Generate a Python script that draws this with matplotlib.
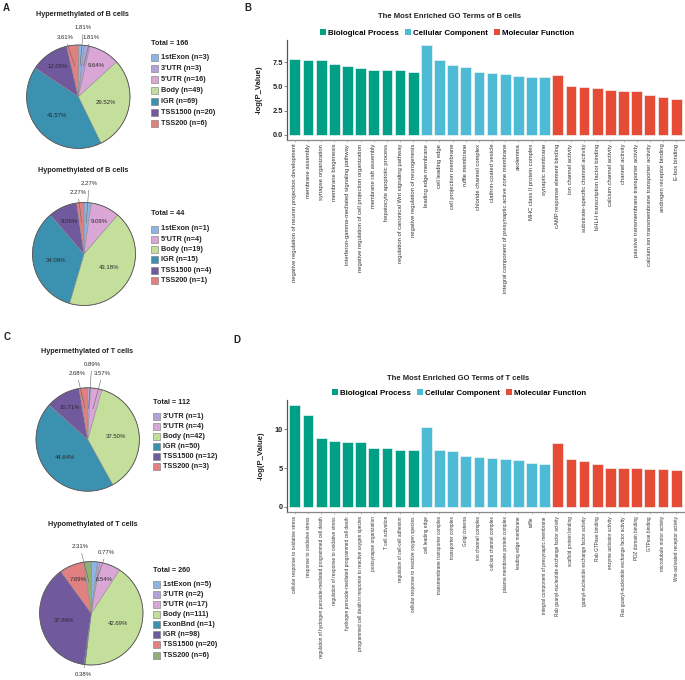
import numpy as np
import matplotlib
matplotlib.use('Agg')
import matplotlib.pyplot as plt
from matplotlib.patches import Rectangle, Circle, Patch

plt.rcParams['font.family'] = ['Liberation Sans', 'DejaVu Sans']

W, H = 685, 680

# ---- pie data (methylation sites by region) ----
hyper_b_regions = ['1stExon', "3'UTR", "5'UTR", 'Body', 'IGR', 'TSS1500', 'TSS200']
hyper_b_counts = [3, 3, 16, 49, 69, 20, 6]

hypo_b_regions = ['1stExon', "5'UTR", 'Body', 'IGR', 'TSS1500', 'TSS200']
hypo_b_counts = [1, 4, 19, 15, 4, 1]

hyper_t_regions = ["3'UTR", "5'UTR", 'Body', 'IGR', 'TSS1500', 'TSS200']
hyper_t_counts = [1, 4, 42, 50, 12, 3]

hypo_t_regions = ['1stExon', "3'UTR", "5'UTR", 'Body', 'ExonBnd', 'IGR', 'TSS1500', 'TSS200']
hypo_t_counts = [5, 2, 17, 111, 1, 98, 20, 6]

# ---- GO enrichment, B cells ----
b_bp_terms = ['negative regulation of neuron projection development', 'membrane assembly',
              'synapse organization', 'membrane biogenesis',
              'interferon-gamma-mediated signaling pathway',
              'negative regulation of cell projection organization', 'membrane raft assembly',
              'hepatocyte apoptotic process', 'regulation of canonical Wnt signaling pathway',
              'negative regulation of neurogenesis']
b_bp_values = [7.84, 7.74, 7.67, 7.33, 7.09, 6.92, 6.65, 6.65, 6.65, 6.48]
b_cc_terms = ['leading edge membrane', 'cell leading edge', 'cell projection membrane',
              'ruffle membrane', 'chloride channel complex', 'clathrin-coated vesicle',
              'integral component of presynaptic active zone membrane', 'axolemma',
              'MHC class II protein complex', 'synaptic membrane']
b_cc_values = [9.30, 7.67, 7.19, 6.99, 6.51, 6.38, 6.24, 6.07, 5.97, 5.97]
b_mf_terms = ['cAMP response element binding', 'ion channel activity',
              'substrate-specific channel activity', 'bHLH transcription factor binding',
              'calcium channel activity', 'channel activity',
              'passive transmembrane transporter activity',
              'calcium ion transmembrane transporter activity', 'androgen receptor binding',
              'E-box binding']
b_mf_values = [6.12, 5.05, 4.91, 4.78, 4.61, 4.50, 4.50, 4.13, 3.89, 3.69]

# ---- GO enrichment, T cells ----
t_bp_terms = ['cellular response to oxidative stress', 'response to oxidative stress',
              'regulation of hydrogen peroxide-mediated programmed cell death',
              'regulation of response to oxidative stress',
              'hydrogen peroxide-mediated programmed cell death',
              'programmed cell death in response to reactive oxygen species',
              'postsynapse organization', 'T cell activation',
              'regulation of cell-cell adhesion', 'cellular response to reactive oxygen species']
t_bp_values = [13.12, 11.84, 8.85, 8.46, 8.33, 8.33, 7.61, 7.56, 7.39, 7.35]
t_cc_terms = ['cell leading edge', 'transmembrane transporter complex', 'transporter complex',
              'Golgi cisterna', 'ion channel complex', 'calcium channel complex',
              'plasma membrane protein complex', 'leading edge membrane', 'ruffle',
              'integral component of presynaptic membrane']
t_cc_values = [10.30, 7.35, 7.22, 6.58, 6.45, 6.32, 6.20, 6.07, 5.64, 5.47]
t_mf_terms = ['Rab guanyl-nucleotide exchange factor activity', 'scaffold protein binding',
              'guanyl-nucleotide exchange factor activity', 'Rab GTPase binding',
              'enzyme activator activity', 'Ras guanyl-nucleotide exchange factor activity',
              'PDZ domain binding', 'GTPase binding', 'microtubule motor activity',
              'Wnt-activated receptor activity']
t_mf_values = [8.25, 6.11, 5.94, 5.56, 5.04, 5.00, 5.00, 4.91, 4.83, 4.74]

go_groups = ['Biological Process', 'Cellular Component', 'Molecular Function']
go_colors = ['#00A087', '#4DBBD5', '#E64B35']

region_colors = {'1stExon': '#8EB4E3', "3'UTR": '#B3A2D7', "5'UTR": '#D9A6D6',
                 'Body': '#C4DE9C', 'IGR': '#3A92B0', 'TSS1500': '#71599E',
                 'TSS200': '#E08080'}
hypo_t_colors = ['#8EB4E3', '#B3A2D7', '#D9A6D6', '#C4DE9C', '#3A92B0', '#71599E',
                 '#E08080', '#94AE7A']

fig = plt.figure(figsize=(W / 100, H / 100), dpi=100)


def fx(x):
    return x / W


def fy(y):
    return 1 - y / H


def draw_pie(cx, cy, r, regions, counts, colors, title, title_xy, legend_xy,
             first_y, step, outside, skip=()):
    ax = fig.add_axes([fx(cx - 1.6 * r), fy(cy + 1.6 * r), 3.2 * r / W, 3.2 * r / H])
    wedges, _ = ax.pie(counts, colors=colors, startangle=90, counterclock=False,
                       radius=1, wedgeprops=dict(edgecolor='#8a8a8a', linewidth=0.35))
    # pie() resets the limits, so set them afterwards
    ax.set_xlim(-1.6, 1.6)
    ax.set_ylim(-1.6, 1.6)
    ax.axis('off')
    ax.add_patch(Circle((0, 0), 1, fill=False, ec='#555555', lw=0.6))
    total = sum(counts)
    for i, w in enumerate(wedges):
        if i in skip:
            continue
        pct = 100 * counts[i] / total
        ang = np.deg2rad((w.theta1 + w.theta2) / 2)
        ux, uy = np.cos(ang), np.sin(ang)
        txt = '%.2f%%' % pct
        if i in outside:
            tx, ty = outside[i]
            ax.annotate(txt, xy=(0.6 * ux, 0.6 * uy), xytext=(tx, ty),
                        ha='center', va='center', fontsize=4.3, color='#2a2a2a',
                        arrowprops=dict(arrowstyle='-', color='#666666', lw=0.4,
                                        shrinkA=1, shrinkB=0))
        else:
            d = 0.7 if pct < 15 else 0.55
            ax.text(d * ux, d * uy, txt, ha='center', va='center', fontsize=4.3,
                    color='#2a2a2a')

    fig.text(fx(title_xy[0]), fy(title_xy[1]), title, ha='center', va='center',
             fontsize=5.2, fontweight='bold', color='#222222')
    lx, ly = legend_xy
    fig.text(fx(lx), fy(ly), 'Total = %d' % total, ha='left', va='center',
             fontsize=5.2, fontweight='bold', color='#222222')
    for k, reg in enumerate(regions):
        yy = first_y + k * step
        fig.add_artist(Rectangle((fx(lx), fy(yy + 3.5)), 7.5 / W, 7 / H,
                                 transform=fig.transFigure, fc=colors[k],
                                 ec='#777777', lw=0.4))
        fig.text(fx(lx + 10), fy(yy), '%s (n=%d)' % (reg, counts[k]), ha='left',
                 va='center', fontsize=5.2, fontweight='bold', color='#222222')


def draw_bars(top, bottom, terms, values, sizes, yticks, yticklabels, title, title_xy,
              legend_xy, tick_fs):
    ax = fig.add_axes([fx(287), fy(bottom), 397 / W, (bottom - top) / H])
    x = np.arange(len(values))
    cols = []
    for g, n in enumerate(sizes):
        cols += [go_colors[g]] * n
    ax.bar(x, values, width=0.82, color=cols, edgecolor='#eef3f3', linewidth=0.5)
    ymax = max(values)
    ax.set_ylim(-0.05 * ymax, 1.05 * ymax)
    ax.set_xlim(-0.6, len(values) - 0.4)
    ax.set_xticks(x)
    ax.set_xticklabels(terms, rotation=90, ha='center', va='top', fontsize=tick_fs,
                       color='#333333')
    ax.set_yticks(yticks)
    ax.set_yticklabels(yticklabels, fontsize=5.3, fontweight='bold', color='#222222')
    for s in ['top', 'right']:
        ax.spines[s].set_visible(False)
    ax.spines['left'].set_color('#555555')
    ax.spines['bottom'].set_color('#888888')
    ax.spines['left'].set_linewidth(0.9)
    ax.spines['bottom'].set_linewidth(0.9)
    ax.tick_params(axis='y', length=2, width=0.5, color='#555555', pad=1)
    ax.tick_params(axis='x', length=1.5, width=0.4, color='#999999', pad=1.5)
    ax.set_ylabel('-log(P_Value)', fontsize=5.5, fontweight='bold', labelpad=7,
                  color='#222222')
    fig.text(fx(title_xy[0]), fy(title_xy[1]), title, ha='center', va='center',
             fontsize=5.5, fontweight='bold', color='#222222')
    handles = [Patch(facecolor=c, edgecolor='none') for c in go_colors]
    fig.legend(handles, go_groups, loc='center', bbox_to_anchor=(fx(legend_xy[0]), fy(legend_xy[1])),
               ncol=3, frameon=False, prop=dict(weight='bold', size=5.7),
               handlelength=0.8, handleheight=0.8, handletextpad=0.25,
               columnspacing=0.75, borderpad=0, borderaxespad=0)
    return ax


# ---- panel A ----
draw_pie(78.3, 96.7, 51.7, hyper_b_regions, hyper_b_counts,
         [region_colors[r] for r in hyper_b_regions], 'Hypermethylated of B cells',
         (82.7, 15), (150.7, 43.3), 57.3, 11.0,
         {0: (0.10, 1.33), 1: (0.24, 1.15), 6: (-0.26, 1.15)})
draw_pie(84, 254, 51.5, hypo_b_regions, hypo_b_counts,
         [region_colors[r] for r in hypo_b_regions], 'Hypomethylated of B cells',
         (82.7, 171), (150.7, 213.3), 229, 10.3,
         {0: (0.10, 1.37), 5: (-0.12, 1.20)})

# ---- panel C ----
draw_pie(87.7, 439.5, 51.7, hyper_t_regions, hyper_t_counts,
         [region_colors[r] for r in hyper_t_regions], 'Hypermethylated of T cells',
         (87.3, 351.7), (152.7, 402.7), 416, 10.0,
         {0: (0.08, 1.45), 1: (0.29, 1.28), 5: (-0.21, 1.28)})
draw_pie(91.3, 613.3, 51.7, hypo_t_regions, hypo_t_counts, hypo_t_colors,
         'Hypomethylated of T cells', (92.7, 525), (152.7, 570), 584, 10.15,
         {7: (-0.22, 1.29), 1: (0.29, 1.18), 4: (-0.15, -1.18)}, skip=(0,))

# ---- panel B ----
draw_bars(40, 139.5, b_bp_terms + b_cc_terms + b_mf_terms,
          b_bp_values + b_cc_values + b_mf_values,
          [len(b_bp_values), len(b_cc_values), len(b_mf_values)],
          [0, 2.5, 5, 7.5], ['0.0', '2.5', '5.0', '7.5'],
          'The Most Enriched GO Terms of B cells', (450, 17), (447, 33), 4.2)

# ---- panel D ----
draw_bars(400, 512, t_bp_terms + t_cc_terms + t_mf_terms,
          t_bp_values + t_cc_values + t_mf_values,
          [len(t_bp_values), len(t_cc_values), len(t_mf_values)],
          [0, 5, 10], ['0', '5', '10'],
          'The Most Enriched GO Terms of T cells', (458, 379), (459, 393), 3.4)

for lab, x, y in [('A', 3, 8), ('B', 244, 8), ('C', 4, 337), ('D', 233, 340)]:
    fig.text(fx(x), fy(y), lab, ha='left', va='center', fontsize=7, fontweight='bold',
             color='#222222')

fig.savefig('out.png', dpi=100)
